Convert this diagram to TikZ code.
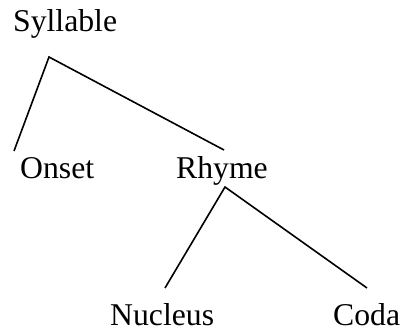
\documentclass[tikz,border=0pt]{standalone}
\usepackage{fontspec}
\setmainfont{Liberation Serif}
\begin{document}
\begin{tikzpicture}[x=1pt,y=1pt,
  lbl/.style={inner sep=0pt, anchor=base west, font=\fontsize{31.7}{38}\selectfont},
  branch/.style={draw=black, line width=1.6pt}]
\useasboundingbox (0,0) rectangle (402,330);
\node[lbl] (syl) at (13,298) {Syllable};
\node[lbl] (ons) at (20,151) {Onset};
\node[lbl] (rhy) at (176,151) {Rhyme};
\node[lbl] (nuc) at (110,5) {Nucleus};
\node[lbl] (cod) at (333,5) {Coda};
\coordinate (sylroot) at (49,273);
\coordinate (onstop) at (14,179);
\coordinate (rhytop) at (224,180);
\coordinate (rhyroot) at (225,143);
\coordinate (nuctop) at (165,42);
\coordinate (codtop) at (367,42);
\draw[branch] (onstop) -- (sylroot) -- (rhytop);
\draw[branch] (nuctop) -- (rhyroot) -- (codtop);
\end{tikzpicture}
\end{document}
